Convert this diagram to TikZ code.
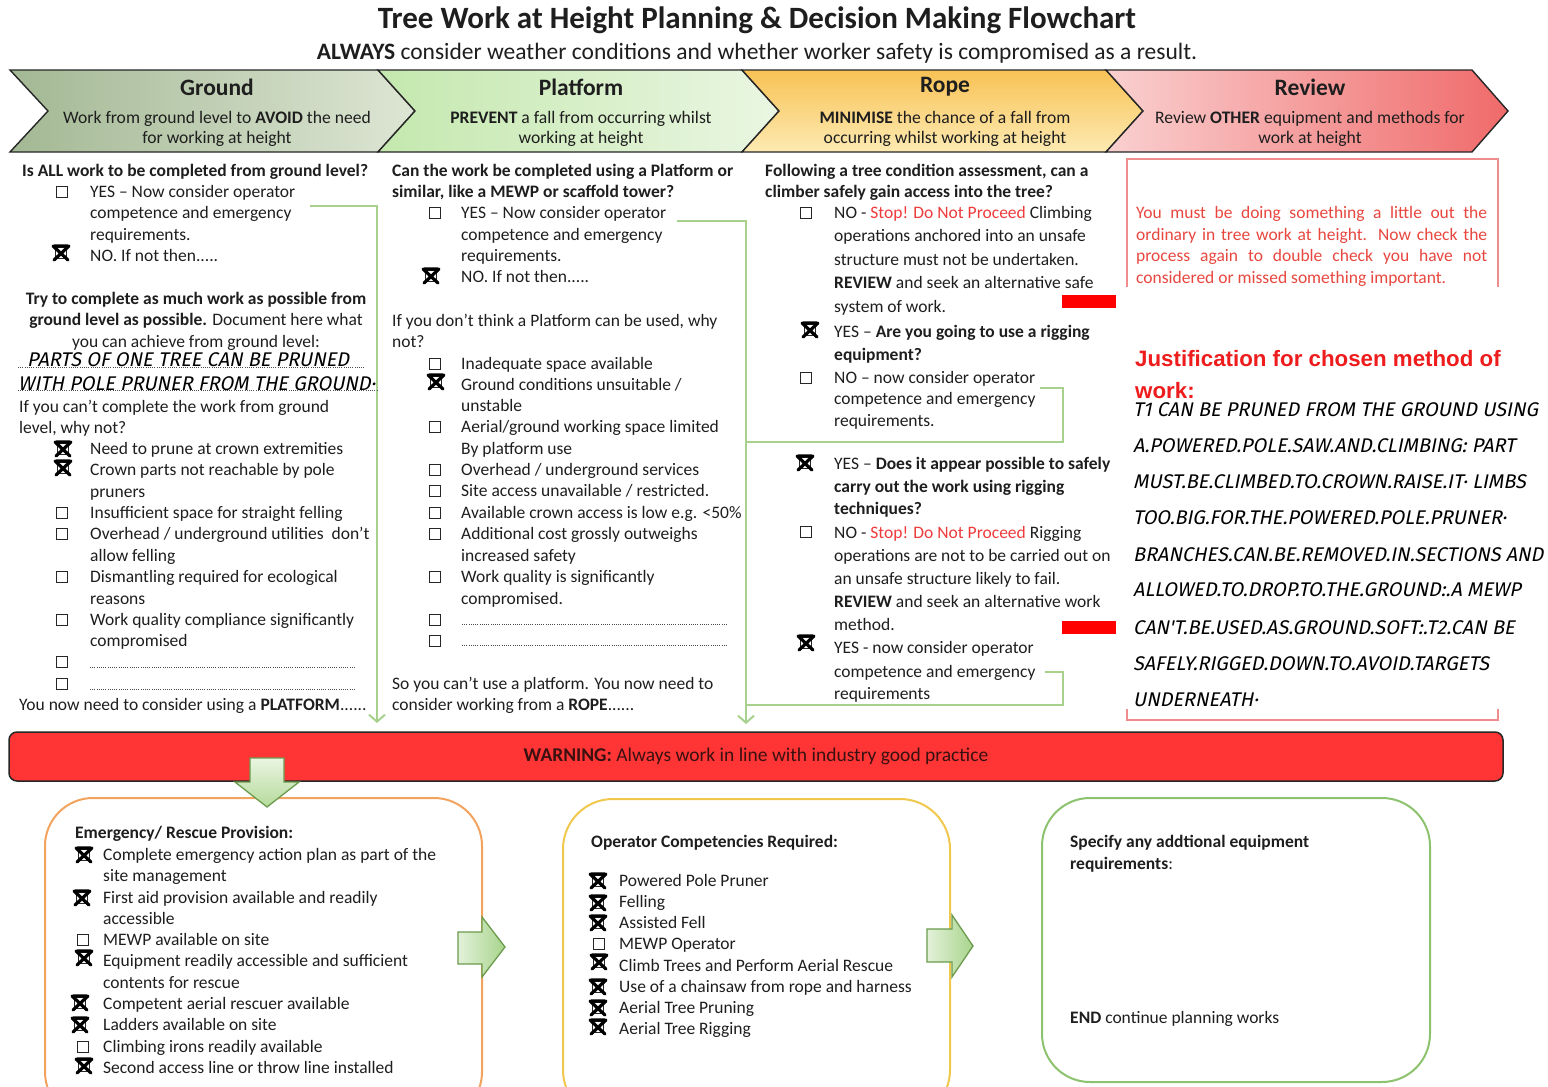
\documentclass[tikz,border=0pt]{standalone}
\usepackage{fontspec}
\setmainfont{Carlito}
\newfontfamily\arialb{Liberation Sans}
\newfontfamily\hand{Fira Sans}[FakeSlant=0.2]
\usetikzlibrary{arrows.meta}
\definecolor{lgreen}{HTML}{A9D18E}
\definecolor{txt}{HTML}{1E1E1E}
\definecolor{stopred}{HTML}{EE3B3B}
\definecolor{boxred}{HTML}{F08C8C}
\definecolor{msgred}{HTML}{E8473F}
\definecolor{jred}{HTML}{EE1C1C}
\definecolor{warnred}{HTML}{FF3535}
\definecolor{warntxt}{HTML}{3A1010}
\definecolor{barrow}{HTML}{6B9B4D}
\definecolor{orangeb}{HTML}{F2A45E}
\definecolor{goldb}{HTML}{F1C84E}
\definecolor{greenb}{HTML}{8DC26F}
\definecolor{grA}{HTML}{A3B894}
\definecolor{grB}{HTML}{DDE6D4}
\definecolor{plA}{HTML}{C4E8AE}
\definecolor{plB}{HTML}{EAF6E2}
\definecolor{roA}{HTML}{F8C255}
\definecolor{roB}{HTML}{FDEAB2}
\definecolor{rvA}{HTML}{FAD0D0}
\definecolor{rvB}{HTML}{F06A6A}
\definecolor{baA}{HTML}{EAF5E2}
\definecolor{baB}{HTML}{B5DA9B}
\definecolor{baC}{HTML}{E3F1D9}
\definecolor{baD}{HTML}{A8D48C}
\newcommand\bodyfs{\fontsize{17.5}{21}\selectfont}
\newcounter{lnc}
\newcommand\Tx[3]{\stepcounter{lnc}\node[ln] (n\arabic{lnc}) at (#1,#2) {\strut #3};}
\newcommand\Tc[3]{\stepcounter{lnc}\node[lc] (n\arabic{lnc}) at (#1,#2) {\strut #3};}
\newcommand\Eb[2]{\pic at (#1,#2) {ebox};}
\newcommand\Xb[2]{\pic at (#1,#2) {xbox};}
\newcommand\Hw[3]{\stepcounter{lnc}\node[hw] (n\arabic{lnc}) at (#1,#2) {#3};}
\tikzset{
  ln/.style={anchor=west, inner sep=0pt, font=\bodyfs, text=txt, yshift=-1.5pt},
  lc/.style={anchor=center, inner sep=0pt, font=\bodyfs, text=txt, yshift=-1.5pt},
  hw/.style={anchor=base west, inner sep=0pt, font={\hand\fontsize{19.8}{22}\selectfont}, text=black},
  conn/.style={draw=lgreen, line width=2pt},
  arr/.style={conn, -{Straight Barb[length=7pt,width=16pt,line width=2pt]}},
  ebox/.pic={\draw[line width=1.1pt, black!85] (-5.5,-5.5) rectangle (5.5,5.5);},
  xbox/.pic={\draw[line width=1.1pt, black!85] (-5.5,-5.5) rectangle (5.5,5.5);
             \draw[line width=3.2pt, line cap=round, black] (-8,-7) -- (7,7) (8,-7) -- (-7,7) (-7,-7) -- (7,-7);},
  dots/.style={line width=0.8pt, dash pattern=on 0.8pt off 1.4pt, black!70},
  chev/.style={draw=black!85, line width=1.4pt},
  htitle/.style={font={\bfseries\fontsize{23.5}{25}\selectfont}, text=txt, inner sep=0pt},
  hsub/.style={font={\fontsize{17.6}{20}\selectfont}, text=txt, inner sep=0pt, align=center},
  rbox/.style={draw, rounded corners=48pt, line width=2pt, fill=white, inner sep=0pt},
  blockarrow/.style={draw=barrow, line width=1.3pt},
}
\begin{document}
\begin{tikzpicture}[x=1pt,y=-1pt]
\useasboundingbox (0,0) rectangle (1548,1087);
\fill[white] (0,0) rectangle (1548,1087);
\clip (0,0) rectangle (1548,1087);

% title
\node[font={\bfseries\fontsize{31}{34}\selectfont}, text=txt, inner sep=0pt] (title) at (757,20) {Tree Work at Height Planning \& Decision Making Flowchart};
\node[font={\fontsize{23.5}{26}\selectfont}, text=txt, inner sep=0pt] (subtitle) at (757,53) {\textbf{ALWAYS} consider weather conditions and whether worker safety is compromised as a result.};

% header chevrons
\path[chev, left color=grA, right color=grB] (10,70) -- (378,70) -- (415,111) -- (378,152) -- (10,152) -- (48,111) -- cycle;
\path[chev, left color=plA, right color=plB] (378,70) -- (742,70) -- (779,111) -- (742,152) -- (378,152) -- (415,111) -- cycle;
\path[chev, top color=roA, bottom color=roB] (742,70) -- (1106,70) -- (1143,111) -- (1106,152) -- (742,152) -- (779,111) -- cycle;
\path[chev, left color=rvA, right color=rvB] (1106,70) -- (1472,70) -- (1508,111) -- (1472,152) -- (1106,152) -- (1143,111) -- cycle;

\node[htitle] (hg) at (217,87) {Ground};
\node[hsub] (hgs) at (217,129) {Work from ground level to \textbf{AVOID} the need\\for working at height};
\node[htitle] (hp) at (581,87) {Platform};
\node[hsub] (hps) at (581,129) {\textbf{PREVENT} a fall from occurring whilst\\working at height};
\node[htitle] (hr) at (945,87) {Rope};
\node[hsub] (hrs) at (945,129) {\textbf{MINIMISE} the chance of a fall from\\occurring whilst working at height};
\node[htitle] (hv) at (1310,87) {Review};
\node[hsub] (hvs) at (1310,129) {Review \textbf{OTHER} equipment and methods for\\work at height};

% connectors
\coordinate (g0) at (310,206); \coordinate (gend) at (377,723);
\draw[arr] (g0) -| (gend);
\coordinate (p0) at (677,221); \coordinate (pend) at (746,724);
\draw[arr] (p0) -| (pend);
\coordinate (r0) at (1040,388); \coordinate (rj1) at (746,442);
\draw[conn] (r0) -- ++(23,0) |- (rj1);
\coordinate (r2) at (1045,672); \coordinate (rj2) at (746,705);
\draw[conn] (r2) -- ++(18,0) |- (rj2);

% Ground column
\Tx{22}{171}{\textbf{Is ALL work to be completed from ground level?}}
\Eb{62}{192}\node[ln] (gyes) at (90,192) {\strut YES – Now consider operator};
\Tx{90}{213}{competence and emergency}
\Tx{90}{235}{requirements.}
\Xb{61}{253}\Tx{90}{256}{NO. If not then.....}
\Tc{196}{299}{\textbf{Try to complete as much work as possible from}}
\Tc{196}{320}{\textbf{ground level as possible.} Document here what}
\Tc{196}{342}{you can achieve from ground level:}
\draw[dots] (18,367) -- (365,367);
\Hw{27}{366}{PARTS OF ONE TREE CAN BE PRUNED}
\draw[dots] (18,390) -- (378,390);
\Hw{18}{390}{WITH POLE PRUNER FROM THE GROUND·}
\Tx{19}{407}{If you can’t complete the work from ground}
\Tx{19}{428}{level, why not?}
\Xb{63}{449}\Tx{90}{449}{Need to prune at crown extremities}
\Xb{63}{468}\Tx{90}{470}{Crown parts not reachable by pole}
\Tx{90}{492}{pruners}
\Eb{62}{513}\Tx{90}{513}{Insufficient space for straight felling}
\Eb{62}{534}\Tx{90}{534}{Overhead / underground utilities\ \ don’t}
\Tx{90}{556}{allow felling}
\Eb{62}{577}\Tx{90}{577}{Dismantling required for ecological}
\Tx{90}{599}{reasons}
\Eb{62}{620}\Tx{90}{620}{Work quality compliance significantly}
\Tx{90}{641}{compromised}
\Eb{62}{662}\draw[dots] (90,667) -- (355,667);
\Eb{62}{684}\draw[dots] (90,689) -- (355,689);
\Tx{19}{705}{You now need to consider using a \textbf{PLATFORM}......}

% Platform column
\Tx{392}{171}{\textbf{Can the work be completed using a Platform or}}
\Tx{392}{192}{\textbf{similar, like a MEWP or scaffold tower?}}
\Eb{435}{213}\node[ln] (pyes) at (461,213) {\strut YES – Now consider operator};
\Tx{461}{235}{competence and emergency}
\Tx{461}{256}{requirements.}
\Xb{431}{276}\Tx{461}{277}{NO. If not then.....}
\Tx{392}{321}{If you don’t think a Platform can be used, why}
\Tx{392}{342}{not?}
\Eb{435}{364}\Tx{461}{364}{Inadequate space available}
\Xb{436}{382}\Tx{461}{385}{Ground conditions unsuitable /}
\Tx{461}{406}{unstable}
\Eb{435}{427}\Tx{461}{427}{Aerial/ground working space limited}
\Tx{461}{449}{By platform use}
\Eb{435}{470}\Tx{461}{470}{Overhead / underground services}
\Eb{435}{491}\Tx{461}{491}{Site access unavailable / restricted.}
\Eb{435}{513}\Tx{461}{513}{Available crown access is low e.g. <50\%}
\Eb{435}{534}\Tx{461}{534}{Additional cost grossly outweighs}
\Tx{461}{556}{increased safety}
\Eb{435}{577}\Tx{461}{577}{Work quality is significantly}
\Tx{461}{599}{compromised.}
\Eb{435}{620}\draw[dots] (462,624) -- (727,624);
\Eb{435}{641}\draw[dots] (462,645) -- (727,645);
\Tx{392}{684}{So you can’t use a platform. You now need to}
\Tx{392}{705}{consider working from a \textbf{ROPE}......}

% Rope column
\Tx{765}{171}{\textbf{Following a tree condition assessment, can a}}
\Tx{765}{192}{\textbf{climber safely gain access into the tree?}}
\Eb{806}{213}\Tx{834}{213}{NO - \textcolor{stopred}{Stop! Do Not Proceed} Climbing}
\Tx{834}{236}{operations anchored into an unsafe}
\Tx{834}{260}{structure must not be undertaken.}
\Tx{834}{283}{\textbf{REVIEW} and seek an alternative safe}
\Tx{834}{307}{system of work.}
\Xb{810}{330}\Tx{834}{332}{YES – \textbf{Are you going to use a rigging}}
\Tx{834}{355}{\textbf{equipment?}}
\Eb{806}{378}\node[ln] (rno) at (834,378) {\strut NO – now consider operator};
\Tx{834}{399}{competence and emergency}
\Tx{834}{421}{requirements.}
\Xb{805}{463}\Tx{834}{464}{YES – \textbf{Does it appear possible to safely}}
\Tx{834}{487}{\textbf{carry out the work using rigging}}
\Tx{834}{509}{\textbf{techniques?}}
\Eb{806}{532}\Tx{834}{533}{NO - \textcolor{stopred}{Stop! Do Not Proceed} Rigging}
\Tx{834}{556}{operations are not to be carried out on}
\Tx{834}{579}{an unsafe structure likely to fail.}
\Tx{834}{602}{\textbf{REVIEW} and seek an alternative work}
\Tx{834}{625}{method.}
\Xb{806}{643}\node[ln] (ryes) at (834,648) {\strut YES - now consider operator};
\Tx{834}{672}{competence and emergency}
\Tx{834}{694}{requirements}
\fill[red] (1062,295) rectangle (1116,308);
\fill[red] (1062,621) rectangle (1116,634);

% Review column
\draw[boxred, line width=1.5pt] (1127,287) -- (1127,159) -- (1498,159) -- (1498,287);
\draw[boxred, line width=1.5pt] (1127,709) -- (1127,720) -- (1498,720) -- (1498,709);
\node[ln, text=msgred] (m1) at (1136,213) {\strut\makebox[351pt][s]{You must be doing something a little out the}};
\node[ln, text=msgred] (m2) at (1136,235) {\strut\makebox[351pt][s]{ordinary in tree work at height. Now check the}};
\node[ln, text=msgred] (m3) at (1136,256) {\strut\makebox[351pt][s]{process again to double check you have not}};
\node[ln, text=msgred] (m4) at (1136,278) {\strut considered or missed something important.};
\node[anchor=west, inner sep=0pt, font={\arialb\bfseries\fontsize{22.3}{25}\selectfont}, text=jred] (jh1) at (1135,359) {Justification for chosen method of};
\node[anchor=west, inner sep=0pt, font={\arialb\bfseries\fontsize{22.3}{25}\selectfont}, text=jred] (jh2) at (1135,391) {work:};
\Hw{1133}{416}{T1 CAN BE PRUNED FROM THE GROUND USING}
\Hw{1133}{452}{A.POWERED.POLE.SAW.AND.CLIMBING: PART}
\Hw{1133}{488}{MUST.BE.CLIMBED.TO.CROWN.RAISE.IT· LIMBS}
\Hw{1133}{524}{TOO.BIG.FOR.THE.POWERED.POLE.PRUNER·}
\Hw{1133}{561}{BRANCHES.CAN.BE.REMOVED.IN.SECTIONS AND}
\Hw{1133}{596}{ALLOWED.TO.DROP.TO.THE.GROUND:.A MEWP}
\Hw{1133}{634}{CAN'T.BE.USED.AS.GROUND.SOFT:.T2.CAN BE}
\Hw{1133}{670}{SAFELY.RIGGED.DOWN.TO.AVOID.TARGETS}
\Hw{1133}{706}{UNDERNEATH·}

% warning bar
\node[draw=black!85, line width=1.5pt, fill=warnred, rounded corners=8pt, minimum width=1494pt, minimum height=49pt, inner sep=0pt, font={\fontsize{19.5}{22}\selectfont}, text=warntxt] (warn) at (756,756.5) {\textbf{WARNING:} Always work in line with industry good practice};

% bottom boxes
\node[rbox, draw=orangeb, minimum width=437pt, minimum height=322pt] (emerg) at (263.5,959) {};
\node[rbox, draw=goldb, rounded corners=50pt, minimum width=387pt, minimum height=321pt] (oper) at (756.5,959.5) {};
\node[rbox, draw=greenb, minimum width=388pt, minimum height=284pt] (equip) at (1236,940) {};

% block arrows
\path[blockarrow, top color=baA, bottom color=baB] (250,758) -- (284,758) -- (284,782) -- (299,782) -- (267,807) -- (235,782) -- (250,782) -- cycle;
\path[blockarrow, left color=baC, right color=baD] (458,932) -- (482,932) -- (482,917) -- (505,947) -- (482,977) -- (482,964) -- (458,964) -- cycle;
\path[blockarrow, left color=baC, right color=baD] (927,929) -- (952,929) -- (952,915) -- (973,946) -- (952,977) -- (952,962) -- (927,962) -- cycle;

% box 1
\Tx{75}{833}{\textbf{Emergency/ Rescue Provision:}}
\Xb{84}{855}\Tx{103}{855}{Complete emergency action plan as part of the}
\Tx{103}{876}{site management}
\Xb{82}{898}\Tx{103}{898}{First aid provision available and readily}
\Tx{103}{919}{accessible}
\Eb{83}{940}\Tx{103}{940}{MEWP available on site}
\Xb{84}{958}\Tx{103}{961}{Equipment readily accessible and sufficient}
\Tx{103}{983}{contents for rescue}
\Xb{80}{1003}\Tx{103}{1004}{Competent aerial rescuer available}
\Xb{80}{1025}\Tx{103}{1025}{Ladders available on site}
\Eb{83}{1047}\Tx{103}{1047}{Climbing irons readily available}
\Xb{84}{1066}\Tx{103}{1068}{Second access line or throw line installed}

% box 2
\Tx{591}{842}{\textbf{Operator Competencies Required:}}
\Xb{598}{881}\Tx{619}{881}{Powered Pole Pruner}
\Xb{598}{903}\Tx{619}{902}{Felling}
\Xb{598}{923}\Tx{619}{923}{Assisted Fell}
\Eb{599}{944}\Tx{619}{944}{MEWP Operator}
\Xb{599}{962}\Tx{619}{966}{Climb Trees and Perform Aerial Rescue}
\Xb{598}{987}\Tx{619}{987}{Use of a chainsaw from rope and harness}
\Xb{598}{1008}\Tx{619}{1008}{Aerial Tree Pruning}
\Xb{598}{1027}\Tx{619}{1029}{Aerial Tree Rigging}

% box 3
\Tx{1070}{842}{\textbf{Specify any addtional equipment}}
\Tx{1070}{864}{\textbf{requirements}:}
\Tx{1070}{1018}{\textbf{END} continue planning works}
\end{tikzpicture}
\end{document}
